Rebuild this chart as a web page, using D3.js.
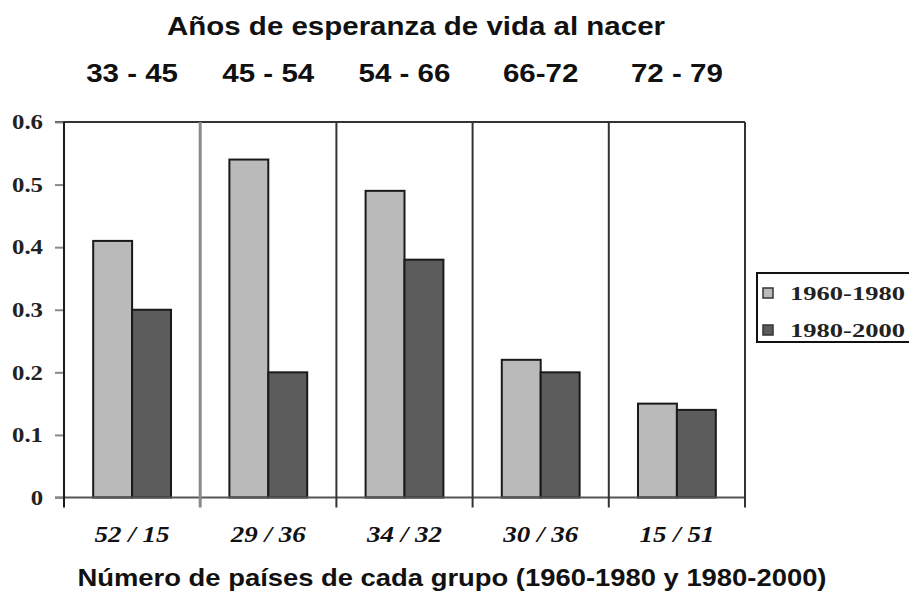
<!DOCTYPE html>
<html>
<head>
<meta charset="utf-8">
<script src="https://cdn.jsdelivr.net/npm/d3@7"></script>
<style>
  body { margin: 0; background: #fff; }
  svg { display: block; }
</style>
</head>
<body>
<div id="chart"></div>
<script>
// Data
const groups = ["33 - 45", "45 - 54", "54 - 66", "66-72", "72 - 79"];
const counts = ["52 / 15", "29 / 36", "34 / 32", "30 / 36", "15 / 51"];
const series = ["1960-1980", "1980-2000"];
const values1960 = [0.41, 0.54, 0.49, 0.22, 0.15];
const values1980 = [0.30, 0.20, 0.38, 0.20, 0.14];
const yTicks = [0, 0.1, 0.2, 0.3, 0.4, 0.5, 0.6];

const data = groups.map((g, i) => ({
  group: g,
  count: counts[i],
  values: [
    { key: series[0], value: values1960[i] },
    { key: series[1], value: values1980[i] }
  ]
}));

const width = 909, height = 591;
const margins = { top: 122, right: 164, bottom: 93.5, left: 64 };
const sx = 1.18; // the picture is stretched sideways

const svg = d3.select("#chart")
  .append("svg")
  .attr("width", width)
  .attr("height", height);

svg.append("rect").attr("width", width).attr("height", height).attr("fill", "#fff");

// stretch text horizontally like the source image
function stretch(sel, w) {
  sel.each(function() {
    const t = d3.select(this);
    const target = w != null ? w : this.getComputedTextLength() * sx;
    t.attr("textLength", target).attr("lengthAdjust", "spacingAndGlyphs");
  });
}

const x0 = d3.scaleBand()
  .domain(groups)
  .range([margins.left, width - margins.right])
  .paddingInner(0)
  .paddingOuter(0);

const x1 = d3.scaleBand()
  .domain(series)
  .range([0, x0.bandwidth()])
  .paddingInner(0)
  .paddingOuter(0.75);

const y = d3.scaleLinear()
  .domain([0, 0.6])
  .range([height - margins.bottom, margins.top]);

const colors = d3.scaleOrdinal()
  .domain(series)
  .range(["#bababa", "#5c5c5c"]);

const x1Right = width - margins.right;

// Top border and zero line
svg.append("line")
  .attr("x1", margins.left - 9).attr("x2", x1Right)
  .attr("y1", y(0.6)).attr("y2", y(0.6))
  .attr("stroke", "#333").attr("stroke-width", 2);

// Bars
const gGroups = svg.append("g")
  .selectAll("g")
  .data(data)
  .join("g")
    .attr("transform", d => `translate(${x0(d.group)},0)`);

gGroups.selectAll("rect")
  .data(d => d.values)
  .join("rect")
    .attr("x", d => x1(d.key))
    .attr("y", d => y(d.value))
    .attr("width", x1.bandwidth())
    .attr("height", d => y(0) - y(d.value))
    .attr("fill", d => colors(d.key))
    .attr("stroke", "#1a1a1a")
    .attr("stroke-width", 2);

// Zero line
svg.append("line")
  .attr("x1", margins.left - 9).attr("x2", x1Right)
  .attr("y1", y(0)).attr("y2", y(0))
  .attr("stroke", "#555").attr("stroke-width", 2);

// Group dividers (extend below the zero line)
const dividers = groups.slice(1).map(g => x0(g)).concat([x1Right]);
svg.append("g")
  .selectAll("line")
  .data(dividers)
  .join("line")
    .attr("x1", d => d).attr("x2", d => d)
    .attr("y1", y(0.6)).attr("y2", y(0) + 10)
    .attr("stroke", (d, i) => i === 0 ? "#8a8a8a" : "#333")
    .attr("stroke-width", (d, i) => i === 0 ? 3 : 2);

// Y axis
const yAxis = d3.axisLeft(y)
  .tickValues(yTicks)
  .tickSize(9)
  .tickPadding(12)
  .tickFormat(d => d === 0 ? "0" : d.toFixed(1));

const yGroup = svg.append("g")
  .attr("transform", `translate(${margins.left},0)`)
  .call(yAxis)
  .call(g => g.select(".domain").remove());

yGroup.selectAll(".tick line")
  .attr("stroke", "#888")
  .attr("stroke-width", 2);

yGroup.selectAll(".tick text")
  .style("font-family", "'Liberation Serif', 'Times New Roman', serif")
  .style("font-weight", "bold")
  .style("font-size", "21px")
  .attr("fill", "#222")
  .call(stretch);

svg.append("line")
  .attr("x1", margins.left).attr("x2", margins.left)
  .attr("y1", y(0.6)).attr("y2", y(0) + 10)
  .attr("stroke", "#1a1a1a").attr("stroke-width", 2);

// Title
svg.append("text")
  .attr("x", 416).attr("y", 35)
  .attr("text-anchor", "middle")
  .style("font-family", "'Liberation Sans', Arial, sans-serif")
  .style("font-weight", "bold")
  .style("font-size", "25px")
  .attr("fill", "#111")
  .text("Años de esperanza de vida al nacer")
  .call(stretch, 498);

// Group labels above
svg.append("g")
  .selectAll("text")
  .data(data)
  .join("text")
    .attr("x", d => x0(d.group) + x0.bandwidth() / 2)
    .attr("y", 82)
    .attr("text-anchor", "middle")
    .style("font-family", "'Liberation Sans', Arial, sans-serif")
    .style("font-weight", "bold")
    .style("font-size", "25px")
    .attr("fill", "#111")
    .text(d => d.group)
    .call(stretch);

// Country counts below
svg.append("g")
  .selectAll("text")
  .data(data)
  .join("text")
    .attr("x", d => x0(d.group) + x0.bandwidth() / 2)
    .attr("y", 542)
    .attr("text-anchor", "middle")
    .style("font-family", "'Liberation Serif', 'Times New Roman', serif")
    .style("font-weight", "bold")
    .style("font-style", "italic")
    .style("font-size", "23px")
    .attr("fill", "#111")
    .text(d => d.count)
    .call(stretch, 75);

// X title
svg.append("text")
  .attr("x", 452).attr("y", 586)
  .attr("text-anchor", "middle")
  .style("font-family", "'Liberation Sans', Arial, sans-serif")
  .style("font-weight", "bold")
  .style("font-size", "24px")
  .attr("fill", "#111")
  .text("Número de países de cada grupo (1960-1980 y 1980-2000)")
  .call(stretch, 749);

// Legend
const legend = svg.append("g").attr("transform", "translate(757,273)");
legend.append("rect")
  .attr("width", 180).attr("height", 69)
  .attr("fill", "#fff")
  .attr("stroke", "#111").attr("stroke-width", 2);

const items = legend.selectAll("g.item")
  .data(series)
  .join("g")
    .attr("class", "item")
    .attr("transform", (d, i) => `translate(6,${20 + i * 37})`);

items.append("rect")
  .attr("x", 0).attr("y", -5)
  .attr("width", 10).attr("height", 10)
  .attr("fill", d => colors(d))
  .attr("stroke", "#333").attr("stroke-width", 1.5);

items.append("text")
  .attr("x", 27).attr("y", 0)
  .attr("dy", "0.35em")
  .style("font-family", "'Liberation Serif', 'Times New Roman', serif")
  .style("font-weight", "bold")
  .style("font-size", "19px")
  .attr("fill", "#222")
  .text(d => d)
  .call(stretch, 115);
</script>
</body>
</html>
